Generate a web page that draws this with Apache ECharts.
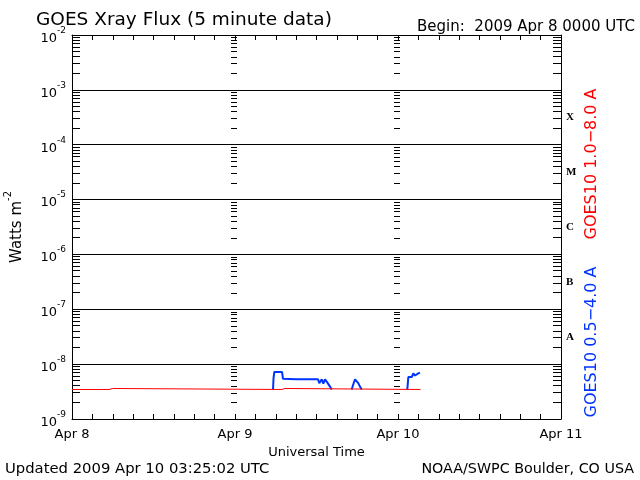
<!DOCTYPE html>
<html><head><meta charset="utf-8">
<script src="https://cdn.jsdelivr.net/npm/echarts@6/dist/echarts.min.js"></script>
<style>html,body{margin:0;padding:0;background:#fff}#c{width:640px;height:480px}</style>
</head><body><div id="c"></div>
<script>
// ---- data ----
const dayLabels = ['Apr 8', 'Apr 9', 'Apr 10', 'Apr 11'];
const dayHours = [0, 24, 48, 72];
const xTickHours = [0,3,6,9,12,15,18,21,24,27,30,33,36,39,42,45,48,51,54,57,60,63,66,69,72];
const decadeExps = [-9, -8, -7, -6, -5, -4, -3, -2];
const classLabels = ['A', 'B', 'C', 'M', 'X'];
const classExps = [-7.5, -6.5, -5.5, -4.5, -3.5];
const mantissas = [2, 3, 4, 5, 6, 7, 8, 9];

// GOES10 1.0-8.0 A (hours since 2009 Apr 8 0000 UTC, W/m^2)
const redHours = [0, 5.45, 5.5, 6.0, 6.05, 30.9, 30.95, 31.35, 31.4, 51.3];
const redFlux  = [3.45e-9, 3.45e-9, 3.6e-9, 3.6e-9, 3.45e-9, 3.45e-9, 3.6e-9, 3.6e-9, 3.45e-9, 3.45e-9];

// GOES10 0.5-4.0 A (null = gap)
const blueHours = [29.6, 29.67, 29.79, 30.92, 31.07, 31.21, 32.98, 33.13, 33.28, 36.22, 36.41, 36.77, 37.0, 37.25, 37.5, 37.74, 37.99, 38.24, 38.3,
  41.18, 41.42, 41.67, 41.92, 42.15, 42.4, 42.65, 42.7,
  49.37, 49.52, 49.77, 50.02, 50.25, 50.5, 50.75, 50.99, 51.24, 51.3];
const blueFlux  = [3.45e-9, 5.5e-9, 7.2e-9, 7.2e-9, 5.4e-9, 5.3e-9, 5.3e-9, 4.9e-9, 5.3e-9, 5.3e-9, 4.5e-9, 5.3e-9, 4.4e-9, 5.3e-9, 4.8e-9, 5.1e-9, 3.9e-9, 3.45e-9, null,
  3.45e-9, 4.3e-9, 5.3e-9, 5.2e-9, 4.5e-9, 3.9e-9, 3.45e-9, null,
  3.45e-9, 5.8e-9, 6.3e-9, 5.8e-9, 6.8e-9, 6.2e-9, 6.3e-9, 6.8e-9, 7.0e-9, 7.0e-9];

// ---- derived ----
const decadeValues = decadeExps.map(e => Math.pow(10, e));
const minorValues = [];
decadeExps.slice(0, -1).forEach(e => mantissas.forEach(m => minorValues.push(m * Math.pow(10, e))));
const classValues = classExps.map(e => Math.pow(10, e));
const FONT = 'DejaVu Sans';

const chart = echarts.init(document.getElementById('c'), null, {renderer: 'canvas'});

const LOG = {type: 'log', logBase: 10, min: 1e-9, max: 1e-2};

chart.setOption({
  animation: false,
  backgroundColor: '#fff',
  textStyle: {fontFamily: FONT},
  title: [
    {text: 'GOES Xray Flux (5 minute data)', left: 31, top: 6, textStyle: {fontFamily: FONT, fontSize: 18.5, fontWeight: 'normal', color: '#000'}},
    {text: 'Begin:  2009 Apr 8 0000 UTC', right: 0, top: 15, textStyle: {fontFamily: FONT, fontSize: 15, fontWeight: 'normal', color: '#000'}},
    {text: 'Updated 2009 Apr 10 03:25:02 UTC', left: 0, top: 457, textStyle: {fontFamily: FONT, fontSize: 14.8, fontWeight: 'normal', color: '#000'}},
    {text: 'NOAA/SWPC Boulder, CO USA', right: 1, top: 457, textStyle: {fontFamily: FONT, fontSize: 14.3, fontWeight: 'normal', color: '#000'}}
  ],
  grid: {left: 72, right: 79, top: 35, bottom: 61, containLabel: false, outerBoundsMode: 'none'},
  xAxis: [
    {
      type: 'value', min: 0, max: 72, position: 'bottom',
      axisLine: {show: true, onZero: false, lineStyle: {color: '#000', width: 1}},
      axisTick: {show: true, inside: true, length: 5, customValues: xTickHours, lineStyle: {color: '#000'}},
      axisLabel: {show: true, customValues: dayHours, margin: 9, color: '#000', fontFamily: FONT, fontSize: 13,
        formatter: v => dayLabels[dayHours.indexOf(Math.round(v))] || ''},
      splitLine: {show: false},
      name: 'Universal Time', nameLocation: 'middle', nameGap: 22,
      nameTextStyle: {color: '#000', fontFamily: FONT, fontSize: 13}
    },
    {
      type: 'value', min: 0, max: 72, position: 'top',
      axisLine: {show: true, onZero: false, lineStyle: {color: '#000', width: 1}},
      axisTick: {show: true, inside: true, length: 5, customValues: xTickHours.slice(), lineStyle: {color: '#000'}},
      axisLabel: {show: false},
      splitLine: {show: false}
    }
  ],
  yAxis: [
    Object.assign({}, LOG, {
      position: 'left',
      axisLine: {show: true, onZero: false, lineStyle: {color: '#000', width: 1}},
      axisTick: {show: false},
      axisLabel: {show: true, customValues: decadeValues, margin: 6, color: '#000',
        formatter: v => '{b|10}{s|' + Math.round(Math.log10(v)) + '}',
        rich: {b: {fontFamily: FONT, fontSize: 13, color: '#000', lineHeight: 20, verticalAlign: 'bottom'},
               s: {fontFamily: FONT, fontSize: 9, color: '#000', verticalAlign: 'top', padding: [1, 0, 0, 0]}}},
      splitLine: {show: false},
      name: '{b|Watts m}{s|-2}', nameLocation: 'middle', nameGap: 47, nameRotate: 90,
      nameTextStyle: {rich: {b: {fontFamily: FONT, fontSize: 15, color: '#000', lineHeight: 22, verticalAlign: 'bottom'},
                             s: {fontFamily: FONT, fontSize: 10, color: '#000', verticalAlign: 'top'}}}
    }),
    Object.assign({}, LOG, {
      position: 'right',
      axisLine: {show: true, onZero: false, lineStyle: {color: '#000', width: 1}},
      axisTick: {show: false},
      axisLabel: {show: true, customValues: classValues, margin: 5, color: '#000',
        fontFamily: 'Liberation Serif', fontWeight: 'bold', fontSize: 11, padding: [0, 0, 7, 0],
        formatter: v => classLabels[classExps.indexOf(Math.round(Math.log10(v) * 2) / 2)] || ''},
      splitLine: {show: false}
    }),
    // tick columns at day boundaries
    Object.assign({}, LOG, {
      position: 'left', offset: -165,
      axisLine: {show: false, onZero: false},
      axisTick: {show: true, inside: false, length: 6, customValues: minorValues.slice(), lineStyle: {color: '#000'}},
      axisLabel: {show: false}, splitLine: {show: false}
    }),
    Object.assign({}, LOG, {
      position: 'left', offset: -328,
      axisLine: {show: false, onZero: false},
      axisTick: {show: true, inside: false, length: 6, customValues: minorValues.slice(), lineStyle: {color: '#000'}},
      axisLabel: {show: false}, splitLine: {show: false}
    }),
    // decade grid lines
    Object.assign({}, LOG, {
      position: 'left', offset: -100, splitNumber: 7,
      axisLine: {show: false, onZero: false},
      axisTick: {show: false}, axisLabel: {show: false},
      splitLine: {show: true, lineStyle: {color: '#000', width: 1, type: 'solid'}}
    })
  ],
  graphic: [
    {type: 'text', x: 592, y: 164, rotation: Math.PI / 2,
     style: {text: 'GOES10 1.0\u22128.0 A', fill: '#ff0000', font: '16px "DejaVu Sans"', align: 'center', verticalAlign: 'middle'}},
    {type: 'text', x: 592, y: 342, rotation: Math.PI / 2,
     style: {text: 'GOES10 0.5\u22124.0 A', fill: '#0033ff', font: '16px "DejaVu Sans"', align: 'center', verticalAlign: 'middle'}}
  ],
  series: [
    // inner minor ticks along the left and right frame (positioned by the log y scale)
    {type: 'custom', name: 'frameTicks', xAxisIndex: 0, yAxisIndex: 0, silent: true, zlevel: 1, z: 100, clip: false,
     data: minorValues.map(v => [0, v]),
     renderItem: (params, api) => {
       const cs = params.coordSys;
       const y = Math.round(api.coord([0, api.value(1)])[1] - 0.5);
       return {type: 'group', children: [
         {type: 'rect', shape: {x: cs.x, y: y, width: 8, height: 1}, style: {fill: '#000'}},
         {type: 'rect', shape: {x: cs.x + cs.width - 8, y: y, width: 8, height: 1}, style: {fill: '#000'}}
       ]};
     }},
    {name: 'GOES10 0.5-4.0 A', type: 'line', xAxisIndex: 0, yAxisIndex: 0, showSymbol: false, z: 3, connectNulls: false,
     lineStyle: {color: '#0033ff', width: 2}, itemStyle: {color: '#0033ff'},
     data: blueHours.map((h, i) => [h, blueFlux[i] === null ? '-' : blueFlux[i]])},
    {name: 'GOES10 1.0-8.0 A', type: 'line', xAxisIndex: 0, yAxisIndex: 0, showSymbol: false, z: 4,
     lineStyle: {color: '#ff0000', width: 1}, itemStyle: {color: '#ff0000'},
     data: redHours.map((h, i) => [h, redFlux[i]])}
  ]
});
</script></body></html>
